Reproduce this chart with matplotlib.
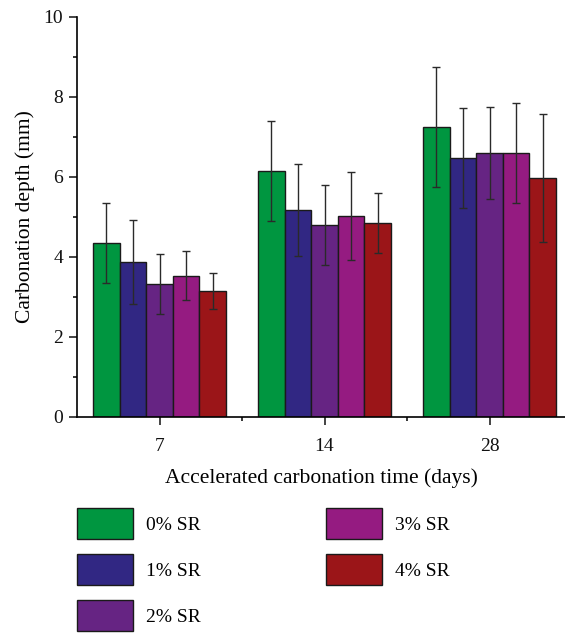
import numpy as np
import matplotlib.pyplot as plt
from matplotlib.patches import Patch
from matplotlib.ticker import MultipleLocator, FixedLocator

plt.rcParams['font.family'] = ['Liberation Serif', 'DejaVu Serif']

# carbonation depth (mm) after accelerated carbonation
days = ['7', '14', '28']
series = ['0% SR', '1% SR', '2% SR', '3% SR', '4% SR']
depth = [
    [4.35, 6.13, 7.25],
    [3.87, 5.16, 6.47],
    [3.31, 4.79, 6.58],
    [3.53, 5.02, 6.60],
    [3.15, 4.83, 5.96],
]
err = [
    [1.00, 1.25, 1.50],
    [1.05, 1.15, 1.25],
    [0.75, 1.00, 1.15],
    [0.60, 1.10, 1.25],
    [0.45, 0.75, 1.60],
]
colors = ['#009640', '#312783', '#662483', '#951b81', '#9b1518']

fig = plt.figure(figsize=(5.65, 6.33), dpi=100)
ax = fig.add_axes([77/565, 1 - 416.7/633, (565 - 77)/565, 400/633])

x = np.arange(1, len(days) + 1)
w = 0.161
for i, name in enumerate(series):
    pos = x + (i - 2) * w
    ax.bar(pos, depth[i], w, color=colors[i], edgecolor='#1a1a1a', linewidth=1.0,
           label=name, zorder=2)
    ax.errorbar(pos, depth[i], yerr=err[i], fmt='none', ecolor='#2a2a2a',
                elinewidth=1.0, capsize=2.6, capthick=1.0, zorder=3)

ax.set_xlim(0.5, 0.5 + (565 - 77) / 165)
ax.set_ylim(0, 10)
ax.set_xticks(x)
ax.set_xticklabels(days)
ax.xaxis.set_minor_locator(FixedLocator([1.5, 2.5]))
ax.set_yticks([0, 2, 4, 6, 8, 10])
ax.yaxis.set_minor_locator(MultipleLocator(1))

for s in ['top', 'right']:
    ax.spines[s].set_visible(False)
for s in ['left', 'bottom']:
    ax.spines[s].set_linewidth(1.2)
ax.tick_params(which='major', direction='out', length=6, width=1.1, labelsize=14,
               colors='#111111', pad=4)
ax.tick_params(axis='x', which='major', pad=9)
ax.tick_params(which='minor', direction='out', length=3, width=1.1)

ax.set_xlabel('Accelerated carbonation time (days)', fontsize=15.5, labelpad=10)
ax.set_ylabel('Carbonation depth (mm)', fontsize=15.5, labelpad=6)

handles = [Patch(facecolor=c, edgecolor='#1a1a1a', linewidth=1.0) for c in colors]
fig.legend(handles, series, loc='upper left', bbox_to_anchor=(77/565, 1 - 508/633),
           ncol=2, frameon=False, fontsize=14, borderpad=0, borderaxespad=0,
           handlelength=2.9, handleheight=2.085, handletextpad=0.67,
           labelspacing=0.77, columnspacing=6.4)

fig.savefig('out.png', dpi=100)
